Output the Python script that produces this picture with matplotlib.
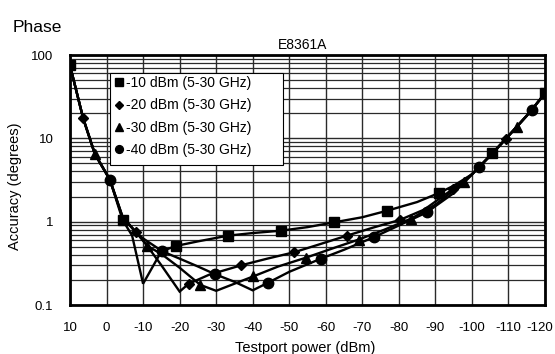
import matplotlib
matplotlib.use("Agg")
import matplotlib.pyplot as plt
import matplotlib.transforms as mtransforms
from matplotlib.patches import Rectangle
from matplotlib.ticker import FixedLocator, FixedFormatter, NullFormatter, LogLocator

plt.rcParams['font.family'] = ['Liberation Sans', 'DejaVu Sans']

# ---------------- data ----------------
# -10 dBm series (squares)
sq_x = [10, 6.4, 3.2, -0.9, -4.4, -7, -10, -15, -18.9, -25, -33.3, -40, -47.8, -55, -62.2,
        -70, -76.7, -85, -91.1, -95, -100, -105.6, -110, -115, -120]
sq_y = [75, 17.4, 6.5, 3.2, 1.05, 0.68, 0.18, 0.44, 0.51, 0.58, 0.68, 0.73, 0.78, 0.86, 0.98,
        1.13, 1.35, 1.72, 2.22, 2.7, 3.7, 6.6, 10.7, 18.6, 34.7]
sq_marks = [10, -4.4, -18.9, -33.3, -47.8, -62.2, -76.7, -91.1, -105.6, -120]

# -20 dBm series (diamonds)
di_x = [10, 6.4, 3.2, -0.9, -4.4, -8.0, -10, -15, -20, -22.5, -28, -36.9, -44, -51.4, -58,
        -65.8, -73, -80.3, -87, -94.7, -100, -105, -109.2, -115, -120]
di_y = [75, 17.4, 6.5, 3.2, 1.12, 0.76, 0.6, 0.3, 0.145, 0.18, 0.23, 0.30, 0.36, 0.43, 0.53,
        0.68, 0.85, 1.05, 1.4, 2.45, 3.7, 6.2, 9.8, 18.6, 34.7]
di_marks = [6.4, -8.0, -22.5, -36.9, -51.4, -65.8, -80.3, -94.7, -109.2]

# -30 dBm series (triangles)
tr_x = [10, 6.4, 3.2, -0.9, -4.4, -8, -11.2, -15, -20, -25.7, -30, -35, -40.1, -47, -54.6,
        -62, -69.0, -76, -83.4, -90, -97.9, -105, -112.3, -116, -120]
tr_y = [75, 17.4, 6.5, 3.2, 1.12, 0.75, 0.51, 0.41, 0.28, 0.174, 0.148, 0.18, 0.22, 0.29, 0.37,
        0.48, 0.61, 0.8, 1.09, 1.6, 3.0, 6.2, 13.8, 21.0, 34.7]
tr_marks = [3.2, -11.2, -25.7, -40.1, -54.6, -69.0, -83.4, -97.9, -112.3]

# -40 dBm series (circles)
ci_x = [10, 6.4, 3.2, -0.9, -4.4, -8, -10, -15.3, -20, -25, -29.8, -35, -40, -44.2, -50,
        -58.7, -65, -73.1, -80, -87.6, -95, -102, -108, -116.4, -120]
ci_y = [75, 17.4, 6.5, 3.2, 1.15, 0.75, 0.63, 0.44, 0.36, 0.29, 0.233, 0.19, 0.15, 0.185, 0.25,
        0.36, 0.46, 0.65, 0.9, 1.29, 2.2, 4.5, 8.5, 22.0, 34.7]
ci_marks = [-0.9, -15.3, -29.8, -44.2, -58.7, -73.1, -87.6, -102.0, -116.4]

labels = ['-10 dBm (5-30 GHz)', '-20 dBm (5-30 GHz)', '-30 dBm (5-30 GHz)', '-40 dBm (5-30 GHz)']
x_ticks = [10, 0, -10, -20, -30, -40, -50, -60, -70, -80, -90, -100, -110, -120]
x_ticklabels = ['10', '0', '-10', '-20', '-30', '-40', '-50', '-60', '-70', '-80', '-90',
                '-100', '-110', '-120']
y_ticks = [0.1, 1, 10, 100]
y_ticklabels = ['0.1', '1', '10', '100']

# ---------------- figure ----------------
fig = plt.figure(figsize=(5.55, 3.54), dpi=100)
ax = fig.add_axes([70 / 555, 1 - 305 / 354, 475 / 555, 250 / 354])
ax.set_yscale('log')
ax.set_ylim(0.1, 100)
ax.set_xlim(10, -120)

series = [
    (sq_x, sq_y, sq_marks, 's', 7.5, labels[0]),
    (di_x, di_y, di_marks, 'D', 5.5, labels[1]),
    (tr_x, tr_y, tr_marks, '^', 7.0, labels[2]),
    (ci_x, ci_y, ci_marks, 'o', 7.5, labels[3]),
]
handles = []
for xs, ys, marks, mk, ms, lab in series:
    idx = [xs.index(m) for m in marks]
    ax.plot(xs, ys, color='black', lw=1.7, zorder=3, solid_joinstyle='miter')
    h, = ax.plot(xs, ys, linestyle='none', marker=mk, markersize=ms, color='black',
                 markevery=idx, zorder=4, label=lab)
    handles.append(h)

# grid
ax.xaxis.set_major_locator(FixedLocator(x_ticks))
ax.xaxis.set_major_formatter(FixedFormatter(x_ticklabels))
ax.yaxis.set_major_locator(FixedLocator(y_ticks))
ax.yaxis.set_major_formatter(FixedFormatter(y_ticklabels))
ax.yaxis.set_minor_locator(LogLocator(base=10, subs=range(2, 10)))
ax.yaxis.set_minor_formatter(NullFormatter())
ax.grid(which='major', color='#2a2a2a', lw=1.0, zorder=1)
ax.grid(which='minor', axis='y', color='#2a2a2a', lw=0.9, zorder=1)
ax.set_axisbelow(True)
ax.tick_params(which='both', length=0)
ax.tick_params(axis='x', pad=12, labelsize=9.5)
ax.tick_params(axis='y', pad=12, labelsize=9.5)
for s in ax.spines.values():
    s.set_linewidth(2.0)
    s.set_color('black')

# keep the last x tick label inside the picture
fig.canvas.draw()
last = ax.get_xticklabels()[-1]
last.set_transform(last.get_transform() +
                   mtransforms.ScaledTranslation(-5 / 100, 0, fig.dpi_scale_trans))

# legend box (as in the reference, wider than its text)
box = Rectangle((0.084, 0.56), 0.364, 0.368, transform=ax.transAxes, facecolor='white',
                edgecolor='black', lw=0.8, zorder=5)
ax.add_patch(box)
leg = ax.legend(handles=handles, loc='upper left', bbox_to_anchor=(0.086, 0.935),
                borderaxespad=0, frameon=False, fontsize=10, handlelength=0.5,
                handletextpad=0.25, labelspacing=0.6, borderpad=0.35, markerscale=0.75)
leg.set_zorder(6)

fig.text(13 / 555, 1 - 27 / 354, 'Phase', fontsize=12.5, ha='left', va='center')
fig.text(303 / 555, 1 - 45 / 354, 'E8361A', fontsize=10, ha='center', va='center')
fig.text(15 / 555, 1 - 186 / 354, 'Accuracy (degrees)', fontsize=10.5, rotation=90,
         ha='center', va='center')
fig.text(305 / 555, 1 - 348 / 354, 'Testport power (dBm)', fontsize=10.5,
         ha='center', va='center')

fig.savefig('out.png', dpi=100)
